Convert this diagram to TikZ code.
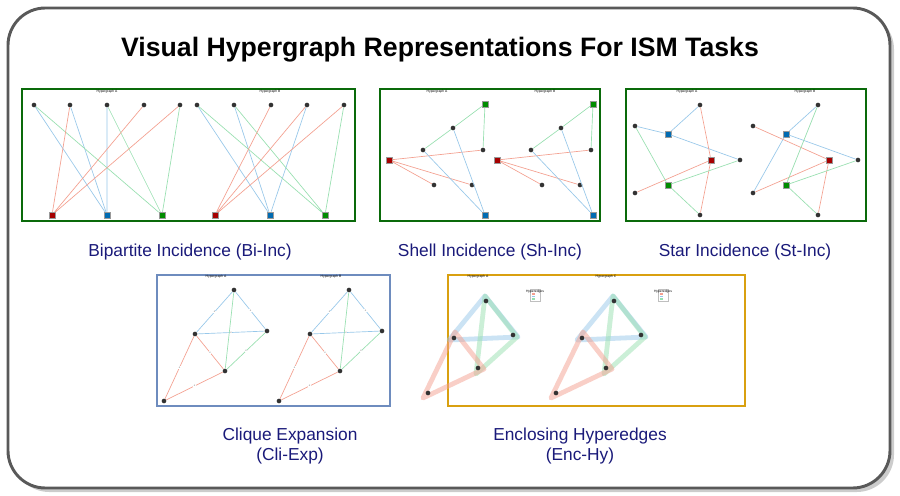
\documentclass[tikz,border=0pt]{standalone}
\usepackage{fontspec}
\setmainfont{Liberation Sans}
\usetikzlibrary{shadows}
\definecolor{er}{HTML}{F4A090}
\definecolor{eb}{HTML}{98C8EA}
\definecolor{eg}{HTML}{98E0B0}
\definecolor{navy}{HTML}{1A1A7A}
\definecolor{pgreen}{HTML}{0A6A0A}
\definecolor{pblue}{HTML}{6E8CBE}
\definecolor{pgold}{HTML}{D9A010}
\tikzset{
 panel/.style={line width=2pt},
 vx/.style={circle,fill=black!80,inner sep=0pt,minimum size=3.5pt},
 sq/.style={rectangle,draw=black!40,line width=0.4pt,inner sep=0pt,minimum size=4.5pt},
 rsq/.style={sq,fill=red!65!black},
 bsq/.style={sq,fill=blue!40!cyan!70!black},
 gsq/.style={sq,fill=green!55!black},
 R/.style={draw=er,line width=0.5pt},
 B/.style={draw=eb,line width=0.5pt},
 G/.style={draw=eg,line width=0.5pt},
 ht/.style={font=\fontsize{2.5}{3}\selectfont},
 captxt/.style={text=navy,font=\fontsize{13}{15}\selectfont,align=center},
 hR/.style={draw=er,opacity=0.5,line width=3.6pt,line join=round},
 hB/.style={draw=eb,opacity=0.5,line width=3.6pt,line join=round},
 hG/.style={draw=eg,opacity=0.5,line width=3.6pt,line join=round},
 elab/.style={font=\fontsize{2}{2}\selectfont,text=gray,fill=white,inner sep=0.3pt}
}
\begin{document}
\begin{tikzpicture}[x=0.75pt,y=-0.75pt]
\useasboundingbox (0,0) rectangle (900,496);
\draw[rounded corners=28pt,line width=2.2pt,draw=black!65,fill=white,drop shadow={shadow xshift=3pt,shadow yshift=-3pt,opacity=0.4}] (8,8) rectangle (890,488);
\node (title) at (440,50) {\fontsize{20}{24}\selectfont\bfseries Visual Hypergraph Representations For ISM Tasks};
% Panel 1 Bipartite
\draw[panel,pgreen] (22,89) rectangle (355,221);
\node[ht] (t1a) at (107,92) {Hypergraph A};
\node[ht] (t1b) at (270,92) {Hypergraph B};
\foreach \i/\x in {1/34,2/70,3/107,4/144,5/180}{\node[vx] (a\i) at (\x,105) {};}
\foreach \i/\x in {1/197,2/234,3/271,4/307,5/344}{\node[vx] (b\i) at (\x,105) {};}
\node[rsq] (ar) at (52,215) {}; \node[bsq] (ab) at (107,215) {}; \node[gsq] (ag) at (162,215) {};
\node[rsq] (br) at (215,215) {}; \node[bsq] (bb) at (270,215) {}; \node[gsq] (bg) at (325,215) {};
\draw[B] (a1)--(ab) (a2)--(ab) (a3)--(ab);
\draw[G] (a1)--(ag) (a3)--(ag) (a5)--(ag);
\draw[R] (a2)--(ar) (a4)--(ar) (a5)--(ar);
\draw[B] (b1)--(bb) (b2)--(bb) (b4)--(bb);
\draw[G] (b1)--(bg) (b2)--(bg) (b5)--(bg);
\draw[R] (b3)--(br) (b4)--(br) (b5)--(br);
% Panel 2 Shell
\draw[panel,pgreen] (380,89) rectangle (600,221);
\node[ht] (t2a) at (437,92) {Hypergraph A};
\node[ht] (t2b) at (545,92) {Hypergraph B};
\foreach \p/\dx in {s/0,t/108}{
 \begin{scope}[xshift=\dx*0.75pt]
 \node[gsq] (\p g) at (485,104) {};
 \node[vx] (\p 1) at (453,128) {};
 \node[vx] (\p 2) at (423,150) {};
 \node[vx] (\p 3) at (483,150) {};
 \node[rsq] (\p r) at (389,160) {};
 \node[vx] (\p 4) at (434,185) {};
 \node[vx] (\p 5) at (472,185) {};
 \node[bsq] (\p b) at (485,215) {};
 \draw[G] (\p g)--(\p 1) (\p g)--(\p 3) (\p 1)--(\p 2);
 \draw[R] (\p r)--(\p 3) (\p r)--(\p 4) (\p r)--(\p 5);
 \draw[B] (\p 1)--(\p b) (\p 2)--(\p b);
 \end{scope}}
% Panel 3 Star
\draw[panel,pgreen] (626,89) rectangle (866,221);
\node[ht] (t3a) at (687,92) {Hypergraph A};
\node[ht] (t3b) at (805,92) {Hypergraph B};
\foreach \p/\dx in {u/0,w/118}{
 \begin{scope}[xshift=\dx*0.75pt]
 \node[vx] (\p t) at (700,105) {};
 \node[vx] (\p l) at (635,126) {};
 \node[bsq] (\p b) at (668,134) {};
 \node[rsq] (\p r) at (711,160) {};
 \node[vx] (\p x) at (740,160) {};
 \node[gsq] (\p g) at (668,185) {};
 \node[vx] (\p d) at (635,193) {};
 \node[vx] (\p o) at (700,215) {};
 \end{scope}}
\draw[B] (ub)--(ut) (ub)--(ul) (ub)--(ux);
\draw[R] (ur)--(ut) (ur)--(ud) (ur)--(uo);
\draw[G] (ug)--(ul) (ug)--(ux) (ug)--(uo);
\draw[B] (wb)--(wt) (wb)--(wx) (wb)--(wd);
\draw[R] (wr)--(wl) (wr)--(wd) (wr)--(wo);
\draw[G] (wg)--(wt) (wg)--(wx) (wg)--(wo);
\node[captxt] (c1) at (190,252) {Bipartite Incidence (Bi-Inc)};
\node[captxt] (c2) at (490,252) {Shell Incidence (Sh-Inc)};
\node[captxt] (c3) at (745,252) {Star Incidence (St-Inc)};
% Panel 4 Clique
\draw[panel,pblue] (157,275) rectangle (390,406);
\node[ht] (t4a) at (216,277) {Hypergraph A};
\node[ht] (t4b) at (331,277) {Hypergraph B};
\foreach \p/\dx in {k/0,m/115}{
 \begin{scope}[xshift=\dx*0.75pt]
 \node[vx] (\p t) at (234,290) {};
 \node[vx] (\p l) at (195,334) {};
 \node[vx] (\p r) at (267,331) {};
 \node[vx] (\p m) at (225,371) {};
 \node[vx] (\p o) at (164,401) {};
 \draw[B] (\p t)--node[elab]{e} (\p l) (\p t)--node[elab]{e} (\p r) (\p l)--node[elab]{e} (\p r);
 \draw[G] (\p t)--(\p m) (\p r)--node[elab]{e} (\p m);
 \draw[R] (\p l)--node[elab]{e} (\p m) (\p l)--node[elab]{e} (\p o) (\p m)--node[elab]{e} (\p o);
 \end{scope}}
% Panel 5 Enclosing
\draw[panel,pgold] (448,275) rectangle (745,406);
\node[ht] (t5a) at (478,277) {Hypergraph A};
\node[ht] (t5b) at (606,277) {Hypergraph C};
\foreach \p/\dx in {h/0,q/128}{
 \begin{scope}[xshift=\dx*0.75pt]
 \draw[hB] (485,296)--(449,340)--(518,337)--cycle;
 \draw[hG] (485,296)--(517,337)--(476,374)--cycle;
 \draw[hR] (455,332)--(484,369)--(423,398)--cycle;
 \node[vx] (\p t) at (486,301) {};
 \node[vx] (\p l) at (454,338) {};
 \node[vx] (\p r) at (513,335) {};
 \node[vx] (\p m) at (478,368) {};
 \node[vx] (\p o) at (428,393) {};
 \node[draw=black!25,line width=0.2pt,fill=white,minimum width=8pt,minimum height=9pt,inner sep=0pt] (\p L) at (535,295) {};
 \node[ht] at (535,291.5) {Hyperedges};
 \draw[R,line width=0.8pt] (532,294)--(535,294); \draw[B,line width=0.8pt] (532,296.5)--(535,296.5); \draw[G,line width=0.8pt] (532,299)--(535,299);
 \end{scope}}
\node[captxt] (c4) at (290,446) {Clique Expansion\\(Cli-Exp)};
\node[captxt] (c5) at (580,446) {Enclosing Hyperedges\\(Enc-Hy)};
\end{tikzpicture}
\end{document}
